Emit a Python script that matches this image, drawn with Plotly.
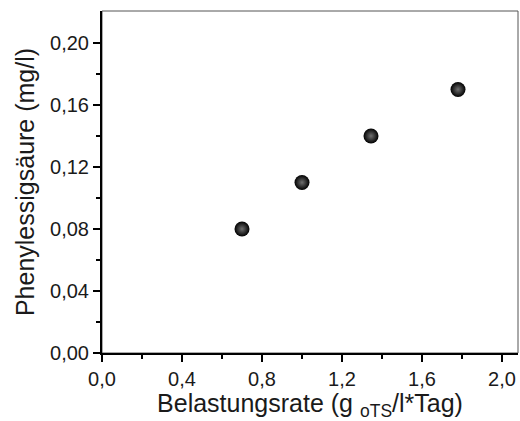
import plotly.graph_objects as go

belastungsrate = [0.70, 1.00, 1.345, 1.78]
phenylessigsaeure = [0.080, 0.110, 0.140, 0.170]

x_title = "Belastungsrate (g <sub>oTS</sub>/l*Tag)"
y_title = "Phenylessigsäure (mg/l)"

font_family = "Liberation Sans, Arial, sans-serif"

fig = go.Figure()
fig.add_trace(go.Scatter(
    x=belastungsrate, y=phenylessigsaeure, mode="markers",
    marker=dict(size=15, color="#000000", line=dict(width=0),
                gradient=dict(type="radial", color="#707070")),
    showlegend=False,
))

axis_common = dict(
    showline=True, linecolor="black", linewidth=2,
    ticks="outside", ticklen=7, tickwidth=2, tickcolor="black",
    showgrid=False, zeroline=False,
    tickfont=dict(family=font_family, size=20, color="#1a1a1a"),
    title_font=dict(family=font_family, size=25, color="#1a1a1a"),
)

fig.update_xaxes(
    range=[0, 2.08], tickvals=[0, 0.4, 0.8, 1.2, 1.6, 2.0], tickformat=".1f",
    minor=dict(tickvals=[0.2, 0.6, 1.0, 1.4, 1.8], ticks="outside", ticklen=4,
               tickwidth=2, tickcolor="black"),
    title=dict(text=x_title, standoff=0),
    **axis_common,
)
fig.update_yaxes(
    range=[0, 0.2206], tickvals=[0, 0.04, 0.08, 0.12, 0.16, 0.20], tickformat=".2f",
    minor=dict(tickvals=[0.02, 0.06, 0.10, 0.14, 0.18], ticks="outside", ticklen=4,
               tickwidth=2, tickcolor="black"),
    title=dict(text=y_title, standoff=8),
    **axis_common,
)

fig.add_shape(type="rect", xref="paper", yref="paper", x0=0, x1=1, y0=0, y1=1,
              line=dict(color="#555555", width=1), layer="below")

fig.update_layout(
    width=520, height=421,
    margin=dict(l=102, r=2, t=11, b=68),
    paper_bgcolor="white", plot_bgcolor="white",
    separators=",.",
    font=dict(family=font_family),
)

fig.write_html("out.html")
